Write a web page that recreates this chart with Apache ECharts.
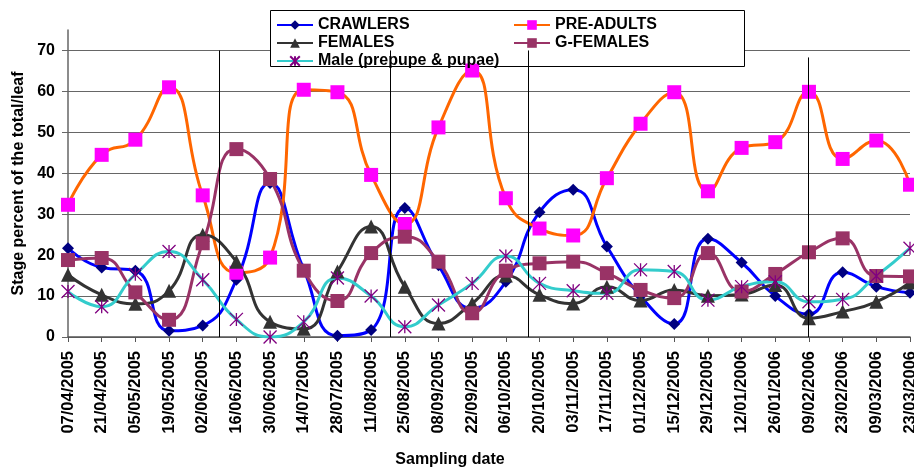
<!DOCTYPE html>
<html>
<head>
    <meta charset="utf-8">
    <style type="text/css">
        *, html, body {
            margin: 0;
            padding: 0;
        }
        html, body, #container {
            width: 914px;
            height: 468px;
            background: #fff;
        }
    </style>
    <script type="text/javascript" src="https://cdn.jsdelivr.net/npm/echarts@6/dist/echarts.min.js"></script>
</head>
<body>
<div id="container"></div>
<script type="text/javascript">
    // sampling dates
    var dates = ["07/04/2005", "21/04/2005", "05/05/2005", "19/05/2005", "02/06/2005", "16/06/2005",
        "30/06/2005", "14/07/2005", "28/07/2005", "11/08/2005", "25/08/2005", "08/09/2005",
        "22/09/2005", "06/10/2005", "20/10/2005", "03/11/2005", "17/11/2005", "01/12/2005",
        "15/12/2005", "29/12/2005", "12/01/2006", "26/01/2006", "09/02/2006", "23/02/2006",
        "09/03/2006", "23/03/2006"];

    // stage percent of the total per leaf
    var crawlers = [21.7, 17.0, 16.2, 1.5, 2.8, 14.0, 37.6, 16.5, 0.3, 1.7, 31.5, 17.5, 7.0,
        13.5, 30.5, 36.0, 22.1, 10.0, 3.2, 24.0, 18.2, 10.0, 5.6, 15.8, 12.3, 10.8];
    var preAdults = [32.3, 44.5, 48.2, 61.0, 34.6, 15.7, 19.4, 60.4, 59.8, 39.6, 27.6, 51.2, 65.1,
        33.9, 26.5, 24.8, 38.8, 52.1, 59.8, 35.6, 46.2, 47.6, 59.9, 43.5, 48.0, 37.2];
    var females = [15.2, 10.3, 8.1, 11.3, 25.0, 18.4, 3.7, 2.0, 16.0, 27.0, 12.3, 3.3, 8.2,
        15.0, 10.3, 8.2, 12.3, 8.9, 11.5, 10.1, 10.4, 12.7, 4.6, 6.2, 8.6, 13.3];
    var gFemales = [18.8, 19.3, 10.9, 4.2, 22.9, 45.9, 38.6, 16.2, 8.8, 20.5, 24.5, 18.4, 5.8,
        16.2, 18.0, 18.4, 15.6, 11.5, 9.5, 20.5, 11.1, 15.4, 20.7, 24.1, 14.9, 14.8];
    var males = [11.1, 7.4, 15.3, 20.9, 14.0, 4.3, 0.0, 3.7, 14.4, 10.0, 2.5, 7.8, 13.1,
        19.8, 13.1, 11.3, 10.7, 16.4, 16.0, 9.0, 12.3, 13.5, 8.6, 9.2, 14.9, 21.7];

    // vertical divider lines (position on the date index scale, top value)
    var dividers = [[4.5, 70], [9.58, 70], [13.68, 70], [21.98, 68.3]];

    var FONT = "Liberation Sans, Arial, sans-serif";
    var asterisk = "path://M0,0L10,10M10,0L0,10M5,0L5,10";

    var myChart = echarts.init(document.getElementById("container"));

    var option = {
        animation: false,
        textStyle: {fontFamily: FONT},
        grid: {left: 68, right: 4, top: 30, bottom: 131, outerBoundsMode: "none"},
        graphic: [{
            type: "rect",
            left: 270,
            top: 10,
            z: 3,
            shape: {width: 474, height: 56},
            style: {fill: "#fff", stroke: "#000", lineWidth: 1}
        }],
        legend: [{
            data: ["CRAWLERS", "FEMALES", "Male (prepupe & pupae)"],
            orient: "vertical",
            left: 271,
            top: 12,
            z: 5,
            itemWidth: 36,
            itemHeight: 12,
            itemGap: 2,
            textStyle: {fontFamily: FONT, fontSize: 16, fontWeight: "bold", color: "#000", lineHeight: 16}
        }, {
            data: ["PRE-ADULTS", "G-FEMALES"],
            orient: "vertical",
            left: 508,
            top: 12,
            z: 5,
            itemWidth: 36,
            itemHeight: 12,
            itemGap: 2,
            textStyle: {fontFamily: FONT, fontSize: 16, fontWeight: "bold", color: "#000", lineHeight: 16}
        }],
        xAxis: [{
            type: "category",
            data: dates,
            boundaryGap: false,
            name: "Sampling date",
            nameLocation: "middle",
            nameGap: 115,
            nameTextStyle: {fontFamily: FONT, fontSize: 16, fontWeight: "bold", color: "#000", padding: [0, 78, 0, 0]},
            axisLine: {lineStyle: {color: "#555", width: 1.5}},
            axisTick: {show: true, alignWithLabel: true, length: 5, interval: 0, lineStyle: {color: "#555"}},
            axisLabel: {interval: 0, rotate: 90, margin: 14, fontFamily: FONT, fontSize: 16.5, fontWeight: "bold", color: "#000"}
        }, {
            type: "value",
            min: 0,
            max: dates.length - 1,
            show: false
        }],
        yAxis: {
            type: "value",
            min: 0,
            max: 75,
            interval: 10,
            name: "Stage percent of the total/leaf",
            nameLocation: "middle",
            nameGap: 34,
            nameTextStyle: {fontFamily: FONT, fontSize: 16, fontWeight: "bold", color: "#000"},
            axisLine: {show: true, lineStyle: {color: "#666", width: 1.5}},
            axisTick: {show: true, length: 6, lineStyle: {color: "#666"}},
            axisLabel: {showMaxLabel: false, margin: 13, fontFamily: FONT, fontSize: 16, fontWeight: "bold", color: "#000"},
            splitLine: {show: true, showMaxLine: false, lineStyle: {color: "#666", width: 1.2}}
        },
        series: [{
            name: "CRAWLERS",
            type: "line",
            data: crawlers,
            smooth: 0.5,
            symbol: "diamond",
            symbolSize: 12,
            lineStyle: {color: "#0000ff", width: 3},
            itemStyle: {color: "#000080"}
        }, {
            name: "PRE-ADULTS",
            type: "line",
            data: preAdults,
            smooth: 0.5,
            symbol: "rect",
            symbolSize: 14,
            lineStyle: {color: "#ff6600", width: 3},
            itemStyle: {color: "#ff00ff"}
        }, {
            name: "FEMALES",
            type: "line",
            data: females,
            smooth: 0.5,
            symbol: "triangle",
            symbolSize: 14,
            lineStyle: {color: "#333333", width: 3},
            itemStyle: {color: "#333333"}
        }, {
            name: "G-FEMALES",
            type: "line",
            data: gFemales,
            smooth: 0.5,
            symbol: "rect",
            symbolSize: 14,
            lineStyle: {color: "#993366", width: 3},
            itemStyle: {color: "#993366"}
        }, {
            name: "Male (prepupe & pupae)",
            type: "line",
            data: males,
            smooth: 0.5,
            symbol: asterisk,
            symbolSize: 13,
            lineStyle: {color: "#33cccc", width: 3},
            itemStyle: {color: "rgba(0,0,0,0)", borderColor: "#800080", borderWidth: 1.3}
        }, {
            name: "dividers",
            type: "scatter",
            xAxisIndex: 1,
            data: [],
            silent: true,
            markLine: {
                silent: true,
                symbol: "none",
                label: {show: false},
                lineStyle: {color: "#000", width: 1, type: "solid"},
                data: dividers.map(function (d) {
                    return [{coord: [d[0], d[1]]}, {coord: [d[0], 0]}];
                })
            }
        }]
    };

    myChart.setOption(option);
</script>
</body>
</html>
